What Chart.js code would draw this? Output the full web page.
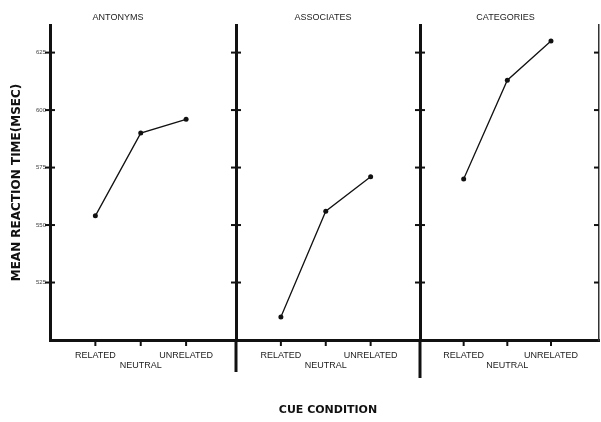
<!DOCTYPE html>
<html>
<head>
<meta charset="utf-8">
<script src="https://cdn.jsdelivr.net/npm/chart.js@4.4.1/dist/chart.umd.min.js"></script>
<style>
  body { margin: 0; background: #fff; }
  #wrap { position: relative; width: 601px; height: 422px; overflow: hidden; }
  canvas { position: absolute; top: 0; }
</style>
</head>
<body>
<div id="wrap">
  <canvas id="p1" width="236" height="422" style="left:0px"></canvas>
  <canvas id="p2" width="194" height="422" style="left:226px"></canvas>
  <canvas id="p3" width="191" height="422" style="left:410px"></canvas>
</div>
<script>
// cue conditions along x, reaction times in msec
var cues = ['RELATED', 'NEUTRAL', 'UNRELATED'];
var cueLabels = [['RELATED', ''], ['', 'NEUTRAL'], ['UNRELATED', '']];
var panels = ['ANTONYMS', 'ASSOCIATES', 'CATEGORIES'];
var antonyms = [554, 590, 596];
var associates = [510, 556, 571];
var categories = [570, 613, 630];
var yTicks = [525, 550, 575, 600, 625];

var ink = '#111';

// tick marks that cross the axis lines, like the printed figure
const crossTicks = {
    id: 'crossTicks',
    afterDraw(chart, args, opts) {
        const ctx = chart.ctx;
        const a = chart.chartArea;
        ctx.save();
        ctx.strokeStyle = ink;
        ctx.lineWidth = 2;
        Object.values(chart.scales).forEach(s => {
            if (s.axis == 'y') {
                const x = s.position == 'left' ? a.left : a.right;
                const l = 5;
                const r = s.position == 'left' ? 5 : 0;
                s.ticks.forEach((t, i) => {
                    const y = s.getPixelForTick(i);
                    ctx.beginPath();
                    ctx.moveTo(x - l, y);
                    ctx.lineTo(x + r, y);
                    ctx.stroke();
                });
            } else {
                s.ticks.forEach((t, i) => {
                    const x = s.getPixelForTick(i);
                    ctx.beginPath();
                    ctx.moveTo(x, a.bottom);
                    ctx.lineTo(x, a.bottom + 6);
                    ctx.stroke();
                });
            }
        });
        if (opts.below) {
            ctx.lineWidth = 3;
            ctx.beginPath();
            ctx.moveTo(a.left, a.bottom);
            ctx.lineTo(a.left, a.bottom + opts.below);
            ctx.stroke();
        }
        ctx.restore();
    }
};

function makePanel(id, idx, values, first, last, below) {
    const points = values.map((v, i) => ({ x: i + 1, y: v }));
    const scales = {
        x: {
            type: 'linear',
            min: 0,
            max: 4.1,
            afterBuildTicks: s => { s.ticks = cues.map((c, i) => ({ value: i + 1 })); },
            afterFit: s => { s.height = 82; },
            grid: { display: false, drawTicks: false },
            border: { display: true, color: ink, width: 3 },
            ticks: {
                padding: 10,
                color: '#222',
                font: { family: 'Liberation Sans', size: 9, lineHeight: 1.15 },
                callback: (v, i) => cueLabels[i]
            },
            title: {
                display: idx == 1,
                text: 'CUE CONDITION',
                color: ink,
                font: { family: 'DejaVu Sans', size: 11, weight: 'bold' },
                padding: { top: 0, bottom: 5 }
            }
        },
        y: {
            min: 500,
            max: 637,
            afterBuildTicks: s => { s.ticks = yTicks.map(v => ({ value: v })); },
            afterFit: s => { s.width = first ? 50 : 10; },
            grid: { display: false, drawTicks: false },
            border: { display: true, color: ink, width: 3 },
            ticks: {
                display: first,
                padding: 4,
                color: '#444',
                font: { family: 'Liberation Sans', size: 6 }
            },
            title: {
                display: first,
                text: 'MEAN REACTION TIME(MSEC)',
                color: ink,
                font: { family: 'DejaVu Sans', size: 12, weight: 'bold' },
                padding: { top: 10, bottom: 0 }
            }
        }
    };
    if (last) {
        scales.y2 = {
            position: 'right',
            min: 500,
            max: 637,
            afterBuildTicks: s => { s.ticks = yTicks.map(v => ({ value: v })); },
            afterFit: s => { s.width = 2; },
            grid: { display: false, drawTicks: false },
            border: { display: true, color: '#333', width: 1.5 },
            ticks: { display: false }
        };
    }
    return new Chart(document.getElementById(id), {
        type: 'line',
        data: {
            datasets: [{
                label: panels[idx],
                data: points,
                borderColor: ink,
                borderWidth: 1.3,
                backgroundColor: ink,
                pointRadius: 2.5,
                pointBackgroundColor: ink,
                pointBorderWidth: 0,
                tension: 0
            }]
        },
        options: {
            responsive: false,
            animation: false,
            devicePixelRatio: 1,
            layout: { padding: 0, autoPadding: false },
            scales: scales,
            plugins: {
                legend: { display: false },
                tooltip: { enabled: false },
                title: {
                    display: true,
                    text: panels[idx],
                    color: '#222',
                    font: { family: 'Liberation Sans', size: 9, weight: 'normal', lineHeight: 1.2 },
                    padding: { top: 12, bottom: 2.2 }
                },
                crossTicks: { below: below }
            }
        },
        plugins: [crossTicks]
    });
}

makePanel('p1', 0, antonyms, true, false, 0);
makePanel('p2', 1, associates, false, false, 32);
makePanel('p3', 2, categories, false, true, 38);
</script>
</body>
</html>
